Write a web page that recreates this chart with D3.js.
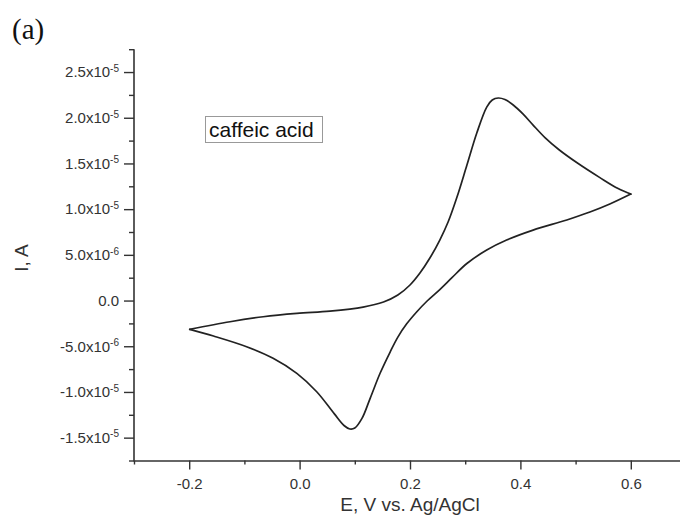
<!DOCTYPE html>
<head>
  <meta charset="utf-8">
  <title>Cyclic voltammogram - caffeic acid</title>
  <script src="https://d3js.org/d3.v7.min.js"></script>
  <style>
    body { margin: 0; background: #fff; }
    .tick line { stroke: #333; stroke-width: 1.4; }
    .domain { stroke: #333; stroke-width: 1.6; }
    .lbl { font-family: "Liberation Sans", Arial, sans-serif; fill: #333; }
  </style>
</head>
<body>
  <svg id="main-svg"></svg>

  <script type="text/javascript">
    const svg_width = 680;
    const svg_height = 524;

    // forward (anodic) sweep, E in V, I in A
    var forwardE = [-0.199, -0.126, -0.066, -0.005, 0.055, 0.115, 0.152, 0.178, 0.200, 0.218,
      0.236, 0.254, 0.269, 0.285, 0.303, 0.321, 0.339, 0.349, 0.360, 0.372, 0.387, 0.405,
      0.423, 0.445, 0.470, 0.502, 0.544, 0.577, 0.600];
    var forwardI = [-3.15e-6, -2.32e-6, -1.77e-6, -1.40e-6, -1.15e-6, -0.71e-6, -0.16e-6, 0.60e-6, 1.70e-6, 3.01e-6,
      4.65e-6, 6.62e-6, 8.59e-6, 11.30e-6, 14.80e-6, 18.33e-6, 21.17e-6, 21.94e-6, 22.16e-6, 21.99e-6, 21.40e-6, 20.40e-6,
      19.20e-6, 17.80e-6, 16.50e-6, 15.10e-6, 13.45e-6, 12.25e-6, 11.65e-6];

    // reverse (cathodic) sweep
    var reverseE = [0.600, 0.562, 0.526, 0.484, 0.423, 0.375, 0.339, 0.303, 0.276, 0.254, 0.231,
      0.212, 0.194, 0.178, 0.164, 0.146, 0.128, 0.113, 0.100, 0.091, 0.081, 0.063, 0.031,
      -0.005, -0.048, -0.096, -0.156, -0.199];
    var reverseI = [11.65e-6, 10.56e-6, 9.68e-6, 8.81e-6, 7.71e-6, 6.62e-6, 5.53e-6, 4.05e-6, 2.50e-6, 1.20e-6, -0.05e-6,
      -1.25e-6, -2.55e-6, -4.00e-6, -5.63e-6, -7.93e-6, -10.67e-6, -12.90e-6, -13.95e-6, -14.05e-6, -13.70e-6, -12.40e-6, -9.98e-6,
      -7.97e-6, -6.32e-6, -5.05e-6, -3.88e-6, -3.15e-6];

    var xTicks = [-0.2, 0.0, 0.2, 0.4, 0.6];
    var xTickLabels = ["-0.2", "0.0", "0.2", "0.4", "0.6"];
    var xMinorTicks = [-0.3, -0.1, 0.1, 0.3, 0.5, 0.7];

    var yTicks = [2.5e-5, 2.0e-5, 1.5e-5, 1.0e-5, 5.0e-6, 0, -5.0e-6, -1.0e-5, -1.5e-5];
    var yTickLabels = ["2.5x10^-5", "2.0x10^-5", "1.5x10^-5", "1.0x10^-5", "5.0x10^-6", "0.0",
      "-5.0x10^-6", "-1.0x10^-5", "-1.5x10^-5"];
    var yMinorTicks = [2.75e-5, 2.25e-5, 1.75e-5, 1.25e-5, 7.5e-6, 2.5e-6, -2.5e-6, -7.5e-6, -1.25e-5, -1.75e-5];

    var x = d3.scaleLinear()
      .domain([-0.3, 0.7])
      .range([134, 686]);

    var y = d3.scaleLinear()
      .domain([-1.75e-5, 2.75e-5])
      .range([460.5, 49.2]);

    var svg = d3.select('#main-svg')
      .attr("width", svg_width)
      .attr("height", svg_height);

    // panel label
    svg.append("text")
      .attr("x", 12)
      .attr("y", 39)
      .style("font-family", "'Liberation Serif', 'Times New Roman', serif")
      .style("font-size", "29px")
      .style("fill", "#111")
      .text("(a)");

    // minor ticks
    svg.append("g")
      .attr("transform", "translate(0," + y.range()[0] + ")")
      .call(d3.axisBottom(x).tickValues(xMinorTicks).tickSize(4).tickFormat("").tickSizeOuter(0))
      .select(".domain").remove();

    svg.append("g")
      .attr("transform", "translate(" + x.range()[0] + ",0)")
      .call(d3.axisLeft(y).tickValues(yMinorTicks).tickSize(5).tickFormat("").tickSizeOuter(0))
      .select(".domain").remove();

    // major axes
    var xAxisG = svg.append("g")
      .attr("transform", "translate(0," + y.range()[0] + ")")
      .call(d3.axisBottom(x)
        .tickValues(xTicks)
        .tickSize(9)
        .tickSizeOuter(0)
        .tickPadding(6)
        .tickFormat(function(d, i) { return xTickLabels[i]; }));

    xAxisG.selectAll(".tick text")
      .attr("class", "lbl")
      .attr("dy", "0.9em")
      .style("font-size", "15px");

    var yAxisG = svg.append("g")
      .attr("transform", "translate(" + x.range()[0] + ",0)")
      .call(d3.axisLeft(y)
        .tickValues(yTicks)
        .tickSize(10)
        .tickSizeOuter(0)
        .tickPadding(5)
        .tickFormat(function(d, i) { return yTickLabels[i]; }));

    yAxisG.selectAll(".tick text")
      .attr("class", "lbl")
      .style("font-size", "15px")
      .each(function(d, i) {
        var parts = yTickLabels[i].split("^");
        var t = d3.select(this).text(null);
        t.append("tspan").text(parts[0]);
        if (parts.length > 1) {
          t.append("tspan")
            .attr("dy", "-0.55em")
            .style("font-size", "10px")
            .text(parts[1]);
        }
      });

    yAxisG.select(".domain").attr("d", "M0," + y.range()[1] + "V" + (y.range()[0] + 1));

    // axis titles
    svg.append("text")
      .attr("class", "lbl")
      .attr("x", x(0.2))
      .attr("y", 511)
      .attr("text-anchor", "middle")
      .style("font-size", "19px")
      .text("E, V vs. Ag/AgCl");

    svg.append("text")
      .attr("class", "lbl")
      .attr("transform", "translate(28,258) rotate(-90)")
      .attr("text-anchor", "middle")
      .style("font-size", "19px")
      .text("I, A");

    // the voltammogram, one path per sweep direction
    var sweeps = [
      forwardE.map(function(e, i) { return [e, forwardI[i]]; }),
      reverseE.map(function(e, i) { return [e, reverseI[i]]; })
    ];

    var line = d3.line()
      .x(function(d) { return x(d[0]); })
      .y(function(d) { return y(d[1]); })
      .curve(d3.curveCatmullRom.alpha(0.5));

    svg.selectAll(".sweep")
      .data(sweeps)
      .enter().append("path")
      .attr("class", "sweep")
      .attr("d", line)
      .attr("fill", "none")
      .attr("stroke", "#222")
      .attr("stroke-width", 1.7)
      .attr("stroke-linecap", "round")
      .attr("stroke-linejoin", "round");

    // legend box
    var legend = svg.append("g");
    legend.append("rect")
      .attr("x", 205.5)
      .attr("y", 116.5)
      .attr("width", 117)
      .attr("height", 26)
      .attr("fill", "#fff")
      .attr("stroke", "#999")
      .attr("stroke-width", 1);
    legend.append("text")
      .attr("x", 209)
      .attr("y", 137)
      .style("font-family", "'Liberation Sans', Arial, sans-serif")
      .style("font-size", "21px")
      .style("fill", "#111")
      .text("caffeic acid");
  </script>
</body>
